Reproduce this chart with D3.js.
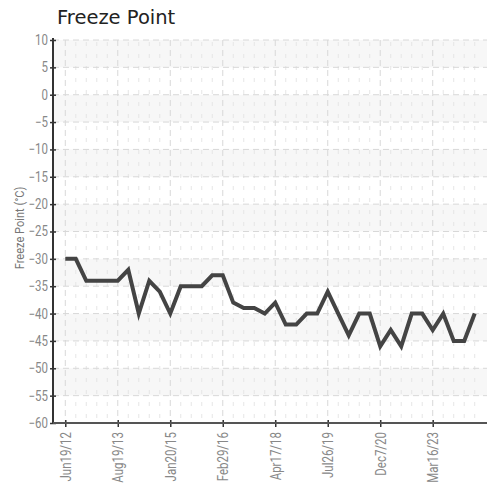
<!DOCTYPE html>
<html>
<head>
<meta charset="utf-8">
<script src="https://cdn.jsdelivr.net/npm/d3@7"></script>
<style>
body { margin: 0; background: #fff; }
.narrow { font-family: Roboto, sans-serif; }
</style>
</head>
<body>
<div id="chart"></div>
<script>
var width = 495,
height = 488;

var margin = { top: 40, right: 8, bottom: 65, left: 53 };

var title = "Freeze Point";
var yTitle = "Freeze Point (°C)";

// one reading per sample, left to right
var freezePoint = [-30, -30, -34, -34, -34, -34, -32, -40, -34, -36,
	-40, -35, -35, -35, -33, -33, -38, -39, -39, -40,
	-38, -42, -42, -40, -40, -36, -40, -44, -40, -40,
	-46, -43, -46, -40, -40, -43, -40, -45, -45, -40];

// labelled every 5th sample
var tickLabels = ["Jun19/12", "Aug19/13", "Jan20/15", "Feb29/16", "Apr17/18", "Jul26/19", "Dec7/20", "Mar16/23"];
var tickEvery = 5;

var yTicks = [10, 5, 0, -5, -10, -15, -20, -25, -30, -35, -40, -45, -50, -55, -60];

var squeeze = 0.82; // fake a condensed face

var svg = d3.select("#chart")
.append("svg")
.attr("width", width)
.attr("height", height);

var x0 = margin.left, x1 = width - margin.right;
var y0 = margin.top, y1 = height - margin.bottom;

var xScale = d3.scalePoint()
.domain(d3.range(freezePoint.length))
.range([x0, x1])
.padding(1.17);

var yScale = d3.scaleLinear()
.domain([-60, 10])
.range([y1, y0]);

// alternating bands
var bands = d3.range(10, -60, -10);
svg.selectAll("rect.band")
.data(bands)
.enter()
.append("rect")
.attr("class", "band")
.attr("x", x0)
.attr("width", x1 - x0)
.attr("y", function(d) { return yScale(d); })
.attr("height", function(d) { return yScale(d - 5) - yScale(d); })
.attr("fill", "#f7f7f7");

// minor vertical grid
svg.selectAll("line.minor")
.data(d3.range(freezePoint.length + 1).filter(function(i) { return i % tickEvery != 0; }))
.enter()
.append("line")
.attr("class", "minor")
.attr("x1", function(i) { return xScale.step() * i + xScale(0); })
.attr("x2", function(i) { return xScale.step() * i + xScale(0); })
.attr("y1", y0 + 2)
.attr("y2", y1)
.attr("stroke", "#e6e6e6")
.attr("stroke-dasharray", "4,8");

// major vertical grid
svg.selectAll("line.vmajor")
.data(tickLabels)
.enter()
.append("line")
.attr("class", "vmajor")
.attr("x1", function(d, i) { return xScale(i * tickEvery); })
.attr("x2", function(d, i) { return xScale(i * tickEvery); })
.attr("y1", y0)
.attr("y2", y1)
.attr("stroke", "#d8d8d8")
.attr("stroke-dasharray", "6,4");

// horizontal grid
svg.selectAll("line.hgrid")
.data(yTicks)
.enter()
.append("line")
.attr("class", "hgrid")
.attr("x1", x0)
.attr("x2", x1)
.attr("y1", function(d) { return yScale(d); })
.attr("y2", function(d) { return yScale(d); })
.attr("stroke", "#d8d8d8")
.attr("stroke-dasharray", "6,4");

// y axis
var yAxis = svg.append("g")
.attr("class", "narrow")
.attr("transform", "translate(" + x0 + ",0)")
.call(d3.axisLeft(yScale).tickValues(yTicks).tickSize(4));
yAxis.select(".domain").remove();
yAxis.selectAll(".tick line").attr("x2", 3).attr("x1", -3).attr("stroke", "#333").attr("stroke-width", 1.5);
yAxis.selectAll("text")
.attr("fill", "#888")
.style("font-size", "14px")
.attr("x", 0)
.attr("transform", "translate(-5,0) scale(" + squeeze + ",1)");
yAxis.append("line")
.attr("y1", y0 - 2)
.attr("y2", y1)
.attr("stroke", "#333")
.attr("stroke-width", 2);

// x axis
var xAxis = svg.append("g")
.attr("class", "narrow")
.attr("transform", "translate(0," + y1 + ")")
.call(d3.axisBottom(xScale)
	.tickValues(d3.range(tickLabels.length).map(function(i) { return i * tickEvery; }))
	.tickFormat(function(d) { return tickLabels[d / tickEvery]; })
	.tickSize(4));
xAxis.select(".domain").remove();
xAxis.selectAll(".tick line").attr("y1", -3).attr("y2", 4).attr("stroke", "#333").attr("stroke-width", 1.5);
xAxis.selectAll("text")
.attr("fill", "#888")
.style("font-size", "14px")
.attr("text-anchor", "end")
.attr("transform", "translate(0,9) rotate(-90) scale(" + squeeze + ",1)")
.attr("x", 0)
.attr("y", 0)
.attr("dy", "0.35em");
xAxis.append("line")
.attr("x1", x0)
.attr("x2", x1)
.attr("stroke", "#555")
.attr("stroke-width", 2);

// series line
var line = d3.line()
.x(function(d, i) { return xScale(i); })
.y(function(d) { return yScale(d); });

svg.append("path")
.datum(freezePoint)
.attr("d", line)
.attr("fill", "none")
.attr("stroke", "#444")
.attr("stroke-width", 4)
.attr("stroke-linejoin", "miter");

// titles
svg.append("text")
.text(title)
.attr("x", 57)
.attr("y", 24)
.attr("font-family", "DejaVu Sans, sans-serif")
.attr("font-size", "19.5px")
.attr("fill", "#222");

svg.append("text")
.attr("class", "narrow")
.text(yTitle)
.attr("transform", "translate(24,228) rotate(-90) scale(" + squeeze + ",1)")
.attr("text-anchor", "middle")
.attr("font-size", "13.5px")
.attr("fill", "#777");
</script>
</body>
</html>
